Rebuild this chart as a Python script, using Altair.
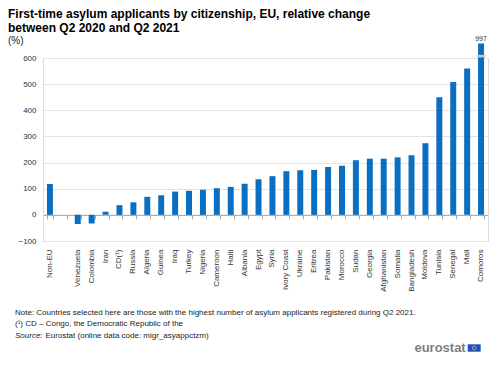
import altair as alt
import pandas as pd

categories = ["Non-EU", " ", "Venezuela", "Colombia", "Iran", "CD(¹)", "Russia", "Algeria",
              "Guinea", "Iraq", "Turkey", "Nigeria", "Cameroon", "Haiti", "Albania", "Egypt",
              "Syria", "Ivory Coast", "Ukraine", "Eritrea", "Pakistan", "Morocco", "Sudan",
              "Georgia", "Afghanistan", "Somalia", "Bangladesh", "Moldova", "Tunisia",
              "Senegal", "Mali", "Comoros"]
values = [118, None, -35, -33, 12, 37, 48, 69, 75, 89, 92, 96, 102, 107, 119, 136,
          148, 167, 171, 172, 183, 188, 209, 215, 215, 220, 228, 274, 450, 508, 560, 997]
y_ticks = [-100, 0, 100, 200, 300, 400, 500, 600]
axis_max = 600
broken_display = 655

title_lines = ["First-time asylum applicants by citizenship, EU, relative change",
               "between Q2 2020 and Q2 2021"]
unit_label = "(%)"
note_line = "Note: Countries selected here are those with the highest number of asylum applicants registered during Q2 2021."
footnote_line = "(¹) CD – Congo, the Democratic Republic of the"
source_label = "Source:"
source_text = "Eurostat (online data code: migr_asyappctzm)"

FONT = "Liberation Sans, Arial, sans-serif"
BLUE = "#0b6fc1"

df = pd.DataFrame({"cat": categories, "value": values})
df["display"] = [None if v is None or pd.isna(v) else min(v, broken_display) for v in df["value"]]
df["label"] = [str(int(v)) if (v is not None and not pd.isna(v) and v > axis_max) else "" for v in df["value"]]

W, H = 445, 183
xscale = alt.Scale(domain=categories, paddingInner=0.57, paddingOuter=0.285)
yscale = alt.Scale(domain=[-100, 600], nice=False, zero=False)

x_labels = alt.X("cat:N", sort=categories, scale=xscale, title=None,
                 axis=alt.Axis(orient="bottom", labelAngle=-90, labelFontSize=8, labelFont=FONT,
                               labelColor="#333333", domain=False, ticks=False, labelPadding=8,
                               grid=False))
x_zero = alt.X("cat:N", sort=categories, scale=xscale, title=None,
               axis=alt.Axis(orient="bottom", labels=False, domain=True, domainColor="#a6a6a6",
                             ticks=True, tickColor="#a6a6a6", tickSize=4, tickBand="extent",
                             offset=-H * 100 / 700, grid=False))

y_enc = alt.Y("display:Q", scale=yscale, title=None,
              axis=alt.Axis(orient="left", values=y_ticks, domain=False, ticks=False, labelFontSize=8,
                            labelFont=FONT, labelColor="#333333", labelPadding=7,
                            grid=True, gridColor="#e3e3e3", gridWidth=1))

base = alt.Chart(df)
bars = base.transform_filter("isValid(datum.display)").mark_bar(color=BLUE).encode(
    x=x_labels, y=y_enc)
zero_axis = base.transform_filter("isValid(datum.display)").mark_bar(opacity=0).encode(
    x=x_zero, y=alt.Y("display:Q", scale=yscale, axis=None))
brk = base.transform_filter(f"datum.value > {axis_max}").transform_calculate(
    b1="602", b2="612").mark_bar(color="#c9c9c9", width=alt.RelativeBandSize(1.4)).encode(
    x=alt.X("cat:N", sort=categories, scale=xscale, axis=None),
    y=alt.Y("b1:Q", scale=yscale, axis=None), y2="b2:Q")
lbl = base.transform_filter(f"datum.value > {axis_max}").mark_text(
    fontSize=7, font=FONT, color="#333333", baseline="bottom", dy=-2).encode(
    x=alt.X("cat:N", sort=categories, scale=xscale, axis=None),
    y=alt.Y("display:Q", scale=yscale, axis=None), text="label:N")


def txt(s, x, y, size=8, weight="normal", style="normal", color="#222222", align="left"):
    return alt.Chart(pd.DataFrame({"t": [s]})).mark_text(
        align=align, baseline="middle", fontSize=size, font=FONT, fontWeight=weight,
        fontStyle=style, color=color).encode(x=alt.value(x), y=alt.value(y), text="t:N")


n1 = txt(note_line, -28, 255)
n2 = txt(footnote_line, -28, 266)
s1 = txt(source_label, -28, 278, style="italic")
s2 = txt(source_text, 2.5, 278)
logo_txt = txt("eurostat", 422.7, 290, size=13, weight="bold", color="#7f7f7f", align="right")
flag = alt.Chart(pd.DataFrame({"t": ["flag"]})).mark_rect(color="#1f4fc4").encode(
    x=alt.value(424.7), x2=alt.value(437.7), y=alt.value(286.3), y2=alt.value(293.7))
stars = alt.Chart(pd.DataFrame({"t": ["stars"]})).mark_point(
    shape="circle", size=14, filled=False, color="#f2d21b", strokeWidth=1).encode(
    x=alt.value(431.2), y=alt.value(290))

chart = alt.layer(bars, zero_axis, brk, lbl, n1, n2, s1, s2, logo_txt, flag, stars).resolve_axis(
    x="independent", y="independent").resolve_scale(y="shared").properties(
    width=W, height=H,
    autosize=alt.AutoSizeParams(type="none"),
    padding={"left": 35, "top": 50, "right": 4, "bottom": 133},
    title=alt.TitleParams(
        text=title_lines, subtitle=unit_label, anchor="start", frame="group", dx=-35,
        font=FONT, fontSize=12, fontWeight="bold", color="#000000", lineHeight=14,
        subtitleFont=FONT, subtitleFontSize=10, subtitleColor="#222222", subtitlePadding=1,
        offset=-12)
).configure_view(stroke=None).configure(background="white")

chart.save("out.html", embed_options={"renderer": "svg", "actions": False})
